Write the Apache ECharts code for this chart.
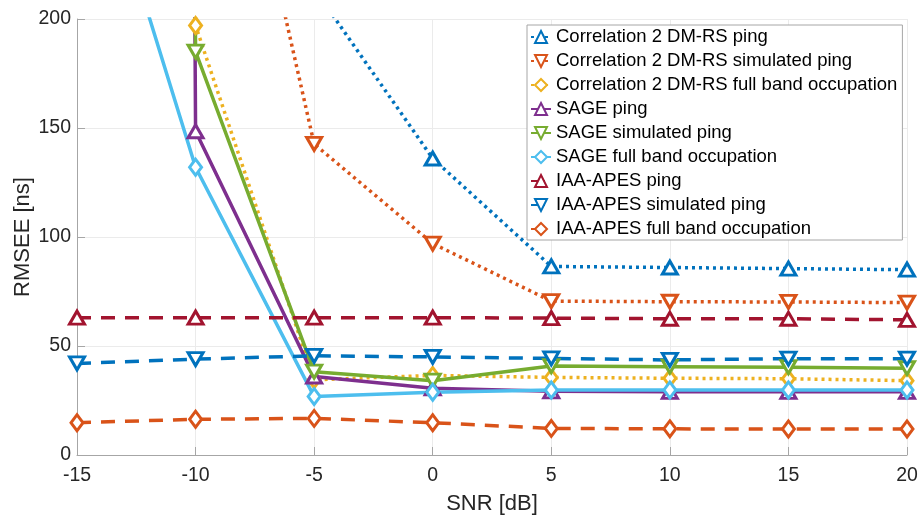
<!DOCTYPE html>
<html>
<head>
<meta charset="utf-8">
<script src="https://cdn.jsdelivr.net/npm/echarts@6/dist/echarts.min.js"></script>
<style>html,body{margin:0;padding:0;background:#fff;}#c{width:921px;height:516px;}</style>
</head>
<body>
<div id="c"></div>
<script>
var snr = [-15, -10, -5, 0, 5, 10, 15, 20];
var seriesNames = [
  'Correlation 2 DM-RS ping',
  'Correlation 2 DM-RS simulated ping',
  'Correlation 2 DM-RS full band occupation',
  'SAGE ping',
  'SAGE simulated ping',
  'SAGE full band occupation',
  'IAA-APES ping',
  'IAA-APES simulated ping',
  'IAA-APES full band occupation'
];
var corrPing = [900, 500, 214, 136, 86.5, 86, 85.5, 85];
var corrSim = [800, 383, 142.7, 97, 70.6, 70.3, 70.2, 69.9];
var corrFull = [8000, 197, 34.5, 36.5, 35.6, 35.2, 35, 34.1];
var sagePing = [9000, 148.5, 36, 30.6, 29.2, 29, 29, 29];
var sageSim = [9000, 185, 38.2, 34.1, 40.8, 40.5, 40.3, 39.8];
var sageFull = [308, 132, 26.8, 28.8, 29.8, 29.8, 29.8, 29.8];
var iaaPing = [63, 63, 63, 63, 62.8, 62.5, 62.5, 62];
var iaaSim = [42, 44, 45.5, 45, 44.3, 43.6, 44.2, 44.2];
var iaaFull = [14.8, 16.4, 16.8, 14.8, 12.2, 12, 11.9, 11.9];
var yTicks = [0, 50, 100, 150, 200];

var allData = [corrPing, corrSim, corrFull, sagePing, sageSim, sageFull, iaaPing, iaaSim, iaaFull];
var colors = ['#0072BD', '#D95319', '#EDB120', '#7E2F8E', '#77AC30', '#4DBEEE', '#A2142F', '#0072BD', '#D95319'];
var styles = ['dotted', 'dotted', 'dotted', 'solid', 'solid', 'solid', 'dashed', 'dashed', 'dashed'];
var marks = ['up', 'down', 'diamond', 'up', 'down', 'diamond', 'up', 'down', 'diamond'];

function dashOf(s) {
  if (s === 'dotted') return [3, 4];
  if (s === 'dashed') return [14, 10];
  return 'solid';
}

var series = allData.map(function (d, i) {
  var m = marks[i];
  return {
    name: seriesNames[i],
    type: 'line',
    data: snr.map(function (x, j) { return [x, d[j]]; }),
    symbol: m === 'diamond' ? 'diamond' : 'triangle',
    symbolRotate: m === 'down' ? 180 : 0,
    symbolSize: m === 'diamond' ? [12, 16] : [15, 13],
    showAllSymbol: true,
    clip: true,
    lineStyle: { color: colors[i], width: 3.5, type: dashOf(styles[i]), cap: 'butt' },
    itemStyle: { color: '#ffffff', borderColor: colors[i], borderWidth: 3 },
    emphasis: { disabled: true },
    animation: false
  };
});

var chart = echarts.init(document.getElementById('c'), null, { renderer: 'canvas' });
chart.setOption({
  backgroundColor: '#ffffff',
  animation: false,
  grid: { left: 77, right: 14, top: 19, bottom: 61, outerBoundsMode: 'none', containLabel: false },
  xAxis: {
    type: 'value', min: -15, max: 20, interval: 5,
    name: 'SNR [dB]', nameLocation: 'middle', nameGap: 38, nameMoveOverlap: false,
    nameTextStyle: { fontFamily: 'Liberation Sans', fontSize: 22, color: '#262626' },
    axisLine: { show: true, onZero: false, lineStyle: { color: '#a6a6a6', width: 1 } },
    axisTick: { show: true, inside: true, length: 8, lineStyle: { color: '#a6a6a6' } },
    axisLabel: { fontFamily: 'Liberation Sans', fontSize: 19.5, color: '#262626', margin: 11 },
    splitLine: { show: true, lineStyle: { color: '#ebebeb', width: 1 } }
  },
  yAxis: {
    type: 'value', min: yTicks[0], max: yTicks[yTicks.length - 1], interval: 50,
    name: 'RMSEE [ns]', nameLocation: 'middle', nameGap: 43, nameMoveOverlap: false,
    nameTextStyle: { fontFamily: 'Liberation Sans', fontSize: 22, color: '#262626' },
    axisLine: { show: true, onZero: false, lineStyle: { color: '#a6a6a6', width: 1 } },
    axisTick: { show: true, inside: true, length: 8, lineStyle: { color: '#a6a6a6' } },
    axisLabel: { fontFamily: 'Liberation Sans', fontSize: 19.5, color: '#262626', margin: 6 },
    splitLine: { show: true, lineStyle: { color: '#ebebeb', width: 1 } }
  },
  legend: {
    orient: 'vertical', left: 527, top: 25,
    padding: [1, 5, 0, 3], itemGap: 2, itemWidth: 20, itemHeight: 15,
    backgroundColor: '#ffffff', borderColor: '#a6a6a6', borderWidth: 1, borderRadius: 0,
    textStyle: { fontFamily: 'Liberation Sans', fontSize: 18.5, color: '#000000', lineHeight: 22 },
    data: seriesNames,
    selectedMode: false
  },
  series: series
});
</script>
</body>
</html>
